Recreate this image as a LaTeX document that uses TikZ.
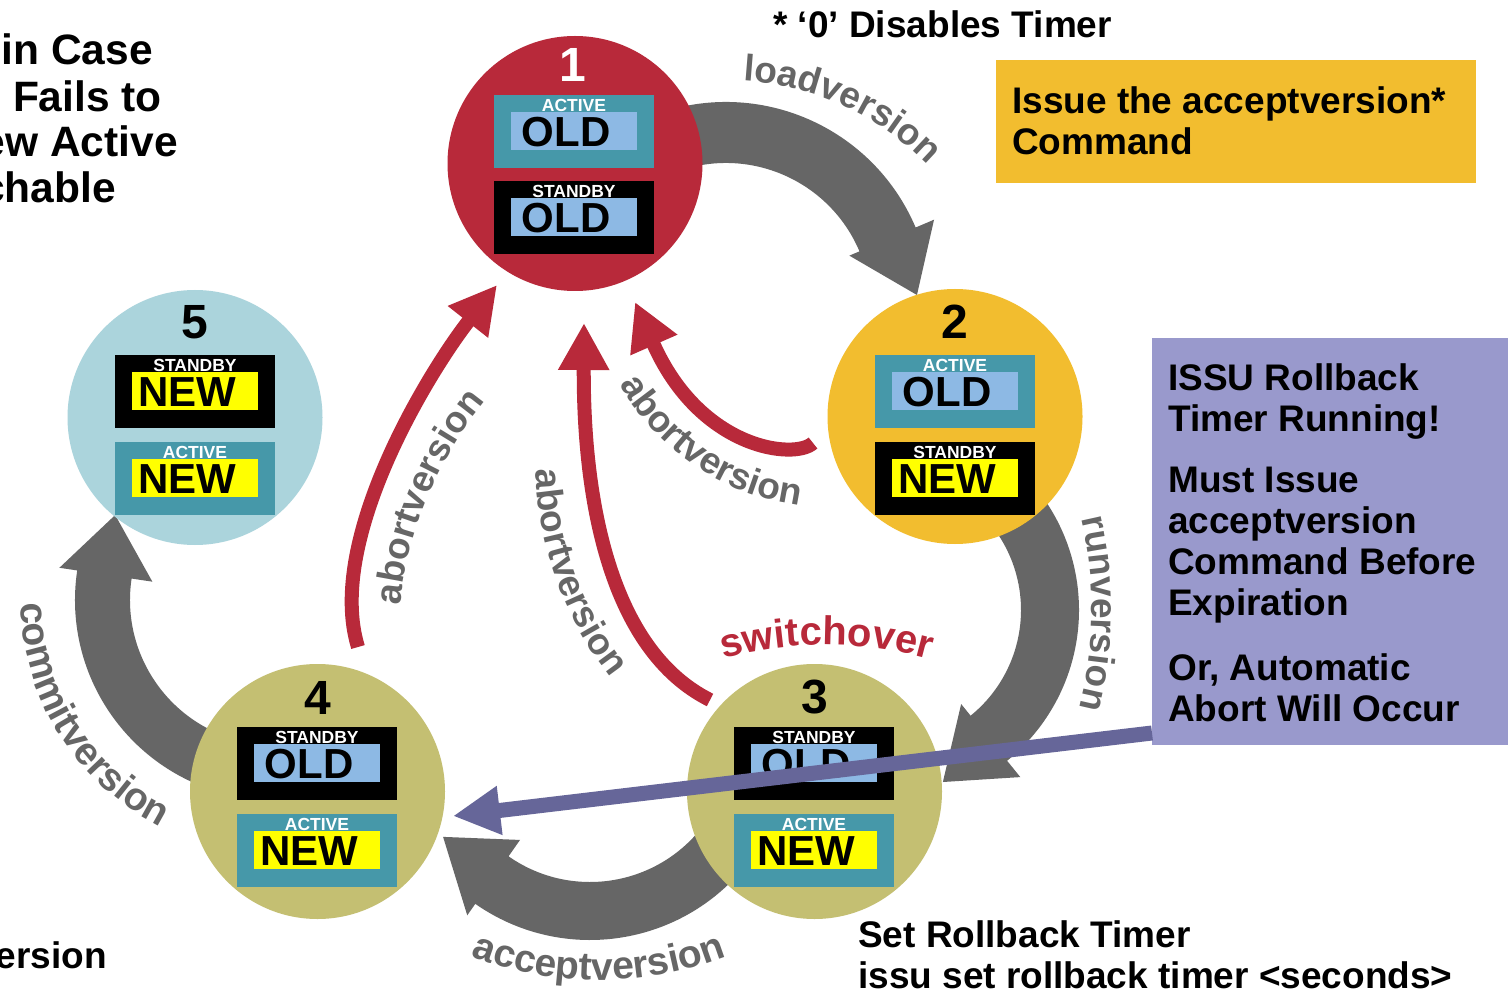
\documentclass[tikz,border=0pt]{standalone}
\usepackage{fontspec}
\setmainfont{Liberation Sans}
\usetikzlibrary{arrows.meta,decorations.text}
\definecolor{cred}{HTML}{B8293A}
\definecolor{cgold}{HTML}{F2BD2F}
\definecolor{colive}{HTML}{C4BF72}
\definecolor{ccyan}{HTML}{ABD4DC}
\definecolor{cteal}{HTML}{4698A9}
\definecolor{cltblue}{HTML}{8DB9E4}
\definecolor{cyel}{HTML}{FFFF00}
\definecolor{cgray}{HTML}{666666}
\definecolor{cpbox}{HTML}{9999CC}
\definecolor{cpline}{HTML}{666699}
\newcommand\fbig{\fontsize{42.5}{42.5}\selectfont\bfseries}
\newcommand\fmid{\fontsize{37}{37}\selectfont\bfseries}
\newcommand{\verbox}[7]{%
  \node[outerbox, fill=#4] (#1) at ({#2+80},{-#3-36.5}) {};
  \node[innerbox, fill=#6] (#1-in) at ({#2+80},{-#3-36}) {};
  \node[boxlabel] (#1-lbl) at ({#2+80},{-#3-10}) {#5};
  \node[vertext] (#1-txt) at ({#2+72},{-#3-37.5}) {#7};
}
\begin{document}
\begin{tikzpicture}[x=1pt,y=1pt,
  outerbox/.style={rectangle, minimum width=160, minimum height=73, inner sep=0},
  innerbox/.style={rectangle, minimum width=126, minimum height=38, inner sep=0},
  boxlabel/.style={inner sep=0, text=white, font=\fontsize{17.5}{17.5}\selectfont\bfseries},
  vertext/.style={inner sep=0, text=black, font=\fontsize{42}{42}\selectfont\bfseries},
  statecirc/.style={circle, minimum size=255, inner sep=0},
  numtxt/.style={inner sep=0, font=\fontsize{48}{48}\selectfont\bfseries},
  bigarrow/.style={fill=cgray},
  redarrow/.style={draw=cred, line width=14, -{Triangle[length=47pt,width=48pt]}},
  purpleline/.style={draw=cpline, line width=15, -{Triangle[length=47pt,width=46pt]}},
  txtl/.style={inner sep=0, anchor=base west, font=\fmid},
  txtr/.style={inner sep=0, anchor=base east},
  curvelbl/.style 2 args={decorate, decoration={text along path, text align=center, text color=cgray, text={|\fontsize{#1}{#1}\selectfont\bfseries|#2}}},
]
\fill[white] (0,-992) rectangle (1510,0);
\useasboundingbox (0,-992) rectangle (1510,0);

% big grey block arrows
\begin{scope}[shift={(726,-308)}]
\fill[bigarrow] (110:206) arc[start angle=110,end angle=23,radius=206] -- (23:226) -- (3.9:191.4) -- (23:134) -- (23:145) arc[start angle=23,end angle=110,radius=145] -- cycle;
\end{scope}
\begin{scope}[shift={(885,-610)}]
\fill[bigarrow] (40:194) arc[start angle=40,end angle=-51,radius=194] -- (-51:215) -- (-71.4:181.5) -- (-51:121) -- (-51:136) arc[start angle=-51,end angle=40,radius=136] -- cycle;
\end{scope}
\begin{scope}[shift={(590,-740)}]
\fill[bigarrow] (-40:200) arc[start angle=-40,end angle=-125,radius=200] -- (-125:214) -- (-146.6:176) -- (-125:122) -- (-125:142) arc[start angle=-125,end angle=-40,radius=142] -- cycle;
\end{scope}
\begin{scope}[shift={(275,-600)}]
\fill[bigarrow] (260:200) arc[start angle=260,end angle=171.5,radius=200] -- (171.5:218) -- (152:181) -- (171.5:124) -- (171.5:145) arc[start angle=171.5,end angle=260,radius=145] -- cycle;
\end{scope}

% state circles
\node[statecirc, fill=cred] (s1) at (575,-163.5) {};
\node[statecirc, fill=cgold] (s2) at (955,-416.5) {};
\node[statecirc, fill=colive] (s3) at (814.5,-791.5) {};
\node[statecirc, fill=colive] (s4) at (317.5,-791.5) {};
\node[statecirc, fill=ccyan] (s5) at (195,-417.5) {};

\node[numtxt, text=white] (n1) at (573,-65) {1};
\node[numtxt] (n2) at (955,-322) {2};
\node[numtxt] (n3) at (815,-697) {3};
\node[numtxt] (n4) at (317.5,-698) {4};
\node[numtxt] (n5) at (195,-322) {5};

\verbox{b1a}{494}{95}{cteal}{ACTIVE}{cltblue}{OLD}
\verbox{b1s}{494}{181}{black}{STANDBY}{cltblue}{OLD}
\verbox{b2a}{875}{355}{cteal}{ACTIVE}{cltblue}{OLD}
\verbox{b2s}{875}{442}{black}{STANDBY}{cyel}{NEW}
\verbox{b3s}{734}{727}{black}{STANDBY}{cltblue}{OLD}
\verbox{b3a}{734}{814}{cteal}{ACTIVE}{cyel}{NEW}
\verbox{b4s}{237}{727}{black}{STANDBY}{cltblue}{OLD}
\verbox{b4a}{237}{814}{cteal}{ACTIVE}{cyel}{NEW}
\verbox{b5s}{115}{355}{black}{STANDBY}{cyel}{NEW}
\verbox{b5a}{115}{442}{cteal}{ACTIVE}{cyel}{NEW}

% red abort arrows
\coordinate (ra1s) at (358,-647); \coordinate (ra1e) at (497,-285);
\coordinate (ra2s) at (710,-700); \coordinate (ra2e) at (584,-323);
\coordinate (ra3s) at (813,-443); \coordinate (ra3e) at (635,-302);
\draw[redarrow] (ra1s) .. controls (325,-540) and (430,-370) .. (ra1e);
\draw[redarrow] (ra2s) .. controls (610,-650) and (583,-500) .. (ra2e);
\draw[redarrow] (ra3s) .. controls (795,-460) and (700,-450) .. (ra3e);

% curved labels
\path[curvelbl={37}{loadversion}] (725,-365) ++(90:285) arc[start angle=90,end angle=41,radius=285];
\path[curvelbl={37}{runversion}] (700,-610) ++(15.5:392) arc[start angle=15.5,end angle=-16.5,radius=392];
\path[curvelbl={39}{acceptversion}] (599,-625) ++(244:355) arc[start angle=244,end angle=296,radius=355];
\path[curvelbl={39}{commitversion}] (275,-600) ++(170:254) arc[start angle=170,end angle=254,radius=254];
\path[curvelbl={37}{abortversion}] (400,-620) .. controls (402,-540) and (440,-450) .. (495,-390);
\path[curvelbl={37}{abortversion}] (536,-440) .. controls (532,-530) and (560,-625) .. (630,-700);
\path[curvelbl={37}{abortversion}] (606,-357) .. controls (640,-435) and (715,-505) .. (830,-508);
\path[decorate, decoration={text along path, text align=center, text color=cred, text={|\fontsize{40}{40}\selectfont\bfseries|switchover}}] (825,-1030) ++(108:385) arc[start angle=108,end angle=71.5,radius=385];

% boxes with text
\node[rectangle, fill=cgold, minimum width=480, minimum height=123, inner sep=0] (ybox) at (1236,-121.5) {};
\node[txtl] (y1) at (1012,-114) {Issue the acceptversion*};
\node[txtl] (y2) at (1012,-155) {Command};

\node[rectangle, fill=cpbox, minimum width=356, minimum height=407, inner sep=0] (pbox) at (1330,-541.5) {};
\node[txtl] (p1) at (1168,-390) {ISSU Rollback};
\node[txtl] (p2) at (1168,-431) {Timer Running!};
\node[txtl] (p3) at (1168,-492) {Must Issue};
\node[txtl] (p4) at (1168,-533) {acceptversion};
\node[txtl] (p5) at (1168,-574) {Command Before};
\node[txtl] (p6) at (1168,-615) {Expiration};
\node[txtl] (p7) at (1168,-680) {Or, Automatic};
\node[txtl] (p8) at (1168,-721) {Abort Will Occur};

% purple pointer
\coordinate (pls) at (1152,-733); \coordinate (ple) at (453,-816);
\draw[purpleline] (pls) -- (ple);

% free texts
\node[txtl] (t0) at (773,-38) {* ‘0’ Disables Timer};
\node[txtr, font=\fbig] (l1) at (153,-65) {in Case};
\node[txtr, font=\fbig] (l2) at (162,-112) {Fails to};
\node[txtr, font=\fbig] (l3) at (178,-157) {ew Active};
\node[txtr, font=\fbig] (l4) at (116,-203) {chable};
\node[txtr, font=\fmid] (l5) at (107,-968) {ersion};
\node[txtl] (r1) at (858,-947) {Set Rollback Timer};
\node[txtl] (r2) at (858,-988) {issu set rollback timer <seconds>};
\end{tikzpicture}
\end{document}
